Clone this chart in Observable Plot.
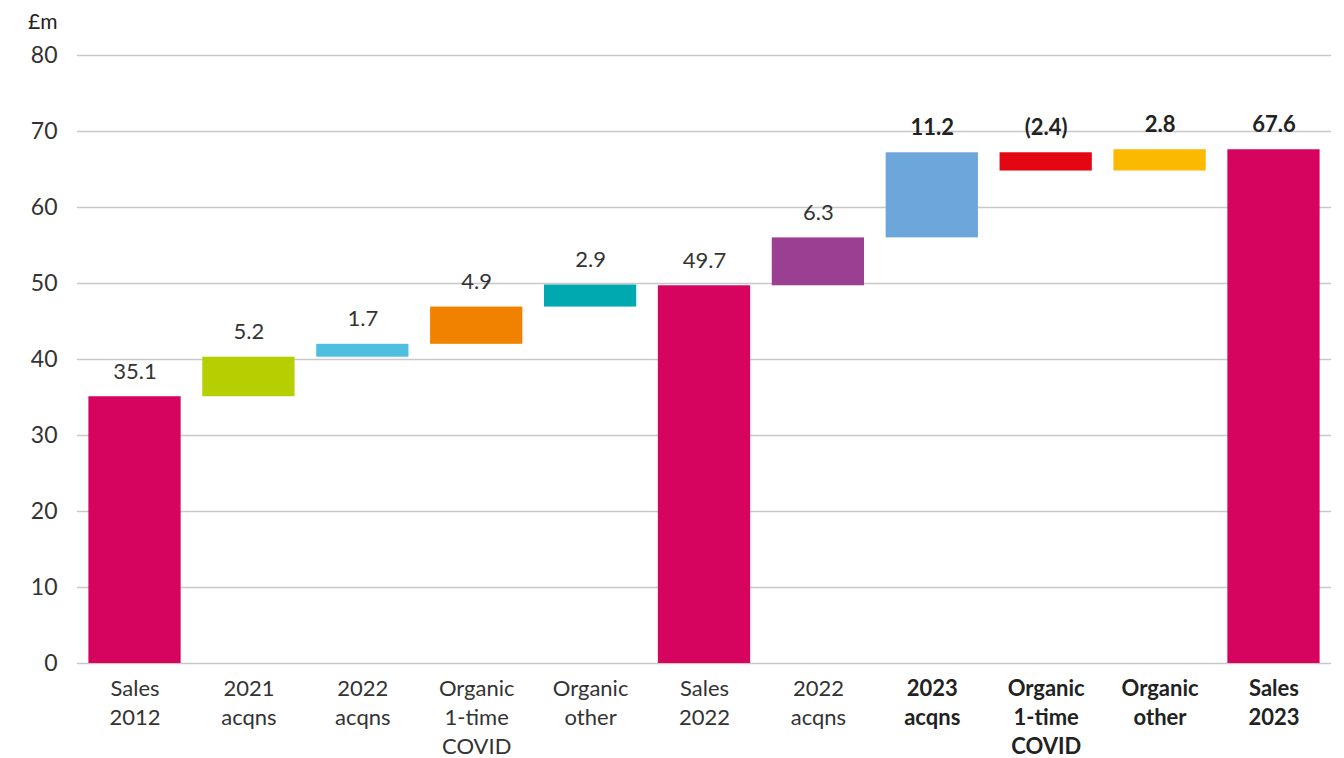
<!DOCTYPE html>
<html>
<head>
<meta charset="utf-8">
<script src="https://cdn.jsdelivr.net/npm/d3@7"></script>
<script src="https://cdn.jsdelivr.net/npm/@observablehq/plot@0.6"></script>
<style>
  html, body { margin: 0; padding: 0; background: #fff; }
  #chart svg { display: block; }
</style>
</head>
<body>
<div id="chart"></div>
<script>
const categories = ["Sales 2012", "2021 acqns", "2022 acqns A", "Organic 1-time COVID A", "Organic other A",
  "Sales 2022", "2022 acqns B", "2023 acqns", "Organic 1-time COVID B", "Organic other B", "Sales 2023"];
const tickLabels = ["Sales\n2012", "2021\nacqns", "2022\nacqns", "Organic\n1-time\nCOVID", "Organic\nother",
  "Sales\n2022", "2022\nacqns", "2023\nacqns", "Organic\n1-time\nCOVID", "Organic\nother", "Sales\n2023"];
const values = [35.1, 5.2, 1.7, 4.9, 2.9, 49.7, 6.3, 11.2, -2.4, 2.8, 67.6];
const isTotal = [true, false, false, false, false, true, false, false, false, false, true];
const valueLabels = ["35.1", "5.2", "1.7", "4.9", "2.9", "49.7", "6.3", "11.2", "(2.4)", "2.8", "67.6"];
const isBold = [false, false, false, false, false, false, false, true, true, true, true];
const colors = ["#D6045F", "#B5CF00", "#4FBFE0", "#F08200", "#00A9AF", "#D6045F",
  "#9B3F92", "#6CA6DA", "#E30613", "#FBB900", "#D6045F"];
const yTicks = [0, 10, 20, 30, 40, 50, 60, 70, 80];
const unitLabel = "£m";

let running = 0;
const data = categories.map((c, i) => {
  let y1, y2;
  if (isTotal[i]) { y1 = 0; y2 = values[i]; running = values[i]; }
  else { y1 = running; y2 = running + values[i]; running = y2; }
  return { cat: c, y1, y2, top: Math.max(y1, y2), color: colors[i], label: valueLabels[i], bold: isBold[i] };
});
const labelMap = new Map(categories.map((c, i) => [c, tickLabels[i]]));
const normalTicks = categories.filter((c, i) => !isBold[i]);
const boldTicks = categories.filter((c, i) => isBold[i]);

const font = "Lato, 'Open Sans', sans-serif";
const chart = Plot.plot({
  width: 1344,
  height: 758,
  marginLeft: 77,
  marginRight: 13,
  marginTop: 55,
  marginBottom: 95,
  style: { fontFamily: font, fontSize: "22px", color: "#333", background: "#fff" },
  x: { domain: categories, paddingInner: 0.19, paddingOuter: 0.1, round: false, label: null },
  y: { domain: [0, 80], label: null },
  marks: [
    Plot.gridY(yTicks, { stroke: "#c8c8c8", strokeOpacity: 1, strokeWidth: 1.5 }),
    Plot.axisY(yTicks, { tickSize: 0, tickPadding: 20, fontSize: 23, fill: "#333", label: null }),
    Plot.text([unitLabel], { frameAnchor: "top-left", textAnchor: "end", lineAnchor: "middle", dx: -20, dy: -33, fontSize: 21, fill: "#222", text: d => d }),
    Plot.barY(data, { x: "cat", y1: "y1", y2: "y2", fill: "color" }),
    Plot.text(data.filter(d => !d.bold), { x: "cat", y: "top", text: "label", dy: -25, fontSize: 22, fill: "#333" }),
    Plot.text(data.filter(d => d.bold), { x: "cat", y: "top", text: "label", dy: -25, fontSize: 22, fontWeight: "bold", fill: "#222" }),
    Plot.axisX(normalTicks, { tickSize: 0, tickPadding: 12, fontSize: 22, fill: "#333", lineHeight: 1.32,
      tickFormat: d => labelMap.get(d), label: null }),
    Plot.axisX(boldTicks, { tickSize: 0, tickPadding: 12, fontSize: 22, fill: "#222", fontWeight: "bold", lineHeight: 1.32,
      tickFormat: d => labelMap.get(d), label: null })
  ]
});
document.getElementById("chart").appendChild(chart);
</script>
</body>
</html>
